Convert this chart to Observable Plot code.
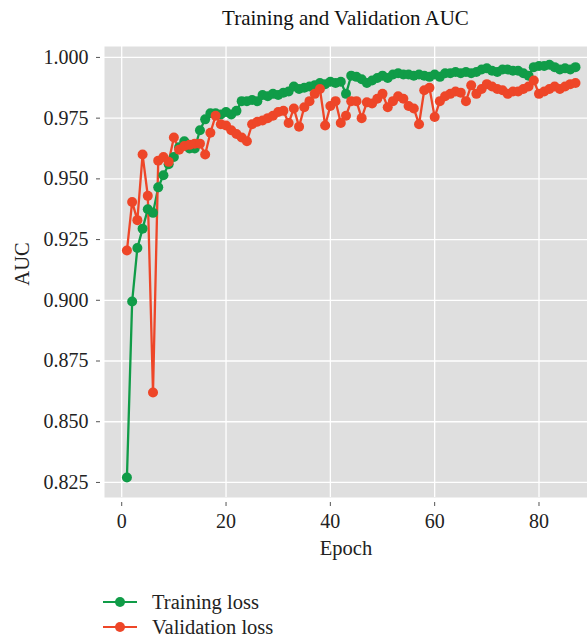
<!DOCTYPE html>
<html><head><meta charset="utf-8">
<script src="https://cdn.jsdelivr.net/npm/d3@7"></script>
<script src="https://cdn.jsdelivr.net/npm/@observablehq/plot@0.6"></script>
<style>
body{margin:0;background:#fff;font-family:"Liberation Serif","DejaVu Serif",serif;color:#222;}
#wrap{position:relative;width:587px;height:642px;overflow:hidden;}
#title{position:absolute;left:104px;width:483px;top:6px;text-align:center;font-size:21px;line-height:24px;color:#111;}
#chart{position:absolute;left:0;top:36px;}
#chart svg, #chart svg text{font-family:"Liberation Serif","DejaVu Serif",serif !important;}
.leg{position:absolute;left:100px;height:24px;display:flex;align-items:center;font-size:20.5px;color:#222;}
.leg svg{margin-right:10px;}
</style></head>
<body><div id="wrap"><div id="title">Training and Validation AUC</div><div id="chart"></div>
<div class="leg" style="top:590px"><svg width="42" height="14"><line x1="3" y1="7" x2="37" y2="7" stroke="#109c48" stroke-width="2"/><circle cx="20" cy="7" r="5" fill="#109c48"/></svg>Training loss</div>
<div class="leg" style="top:615px"><svg width="42" height="14"><line x1="3" y1="7" x2="37" y2="7" stroke="#ee4628" stroke-width="2"/><circle cx="20" cy="7" r="5" fill="#ee4628"/></svg>Validation loss</div>
</div>
<script>
const seriesNames = ["Training loss", "Validation loss"];
const training = [0.827,0.8995,0.9215,0.9295,0.9375,0.9360,0.9465,0.9515,0.9560,0.9590,
0.9630,0.9655,0.9625,0.9625,0.9700,0.9745,0.9770,0.9770,0.9765,0.9775,
0.9765,0.9780,0.9820,0.9820,0.9825,0.9820,0.9845,0.9840,0.9850,0.9845,
0.9855,0.9860,0.9880,0.9870,0.9875,0.9880,0.9885,0.9895,0.9890,0.9900,
0.9895,0.9900,0.9850,0.9925,0.9920,0.9910,0.9895,0.9905,0.9915,0.9925,
0.9915,0.9930,0.9935,0.9930,0.9930,0.9925,0.9930,0.9925,0.9920,0.9930,
0.9920,0.9935,0.9935,0.9940,0.9935,0.9940,0.9935,0.9940,0.9950,0.9955,
0.9945,0.9940,0.9950,0.9950,0.9945,0.9945,0.9935,0.9925,0.9960,0.9965,
0.9965,0.9970,0.9960,0.9950,0.9955,0.9950,0.9960];
const validation = [0.9205,0.9405,0.9330,0.9600,0.9430,0.8620,0.9575,0.9590,0.9570,0.9670,
0.9620,0.9635,0.9640,0.9645,0.9645,0.9600,0.9690,0.9760,0.9725,0.9720,
0.9700,0.9685,0.9670,0.9655,0.9725,0.9735,0.9740,0.9750,0.9760,0.9775,
0.9780,0.9730,0.9790,0.9715,0.9795,0.9820,0.9850,0.9870,0.9720,0.9800,
0.9820,0.9730,0.9760,0.9820,0.9820,0.9750,0.9815,0.9810,0.9830,0.9850,
0.9795,0.9820,0.9840,0.9830,0.9800,0.9790,0.9725,0.9865,0.9875,0.9755,
0.9820,0.9840,0.9850,0.9860,0.9855,0.9820,0.9885,0.9850,0.9870,0.9890,
0.9880,0.9870,0.9865,0.9850,0.9860,0.9860,0.9870,0.9880,0.9905,0.9850,
0.9860,0.9870,0.9880,0.9870,0.9880,0.9890,0.9895];
const xTicks = [0,20,40,60,80];
const yTicks = [0.825,0.850,0.875,0.900,0.925,0.950,0.975,1.000];
const colors = ["#109c48", "#ee4628"];

const data = [];
training.forEach((v,i)=>data.push({epoch:i+1, auc:v, series:seriesNames[0]}));
validation.forEach((v,i)=>data.push({epoch:i+1, auc:v, series:seriesNames[1]}));

const chart = Plot.plot({
  width: 587, height: 531,
  marginTop: 10, marginLeft: 104, marginRight: 0, marginBottom: 70,
  style: {fontSize: "20px", color: "#222", background: "transparent"},
  x: {domain: [-3.3, 89.3], ticks: xTicks},
  y: {domain: [0.8188, 1.0045], ticks: yTicks},
  color: {domain: seriesNames, range: colors},
  marks: [
    Plot.frame({fill: "#dfdfdf", stroke: null}),
    Plot.gridX(xTicks, {stroke: "#fff", strokeOpacity: 1, strokeWidth: 1.3}),
    Plot.gridY(yTicks, {stroke: "#fff", strokeOpacity: 1, strokeWidth: 1.3}),
    Plot.axisX(xTicks, {tickSize: 4, dy: 5, tickPadding: 7, stroke: "#555", label: null, fontSize: 20, tickFormat: d=>String(d)}),
    Plot.axisY(yTicks, {tickSize: 4, dx: -4, tickPadding: 8, stroke: "#555", label: null, fontSize: 20, tickFormat: d3.format(".3f")}),
    Plot.text(["Epoch"], {frameAnchor: "bottom", dy: 57, fontSize: 20.5, fill: "#222"}),
    Plot.text(["AUC"], {frameAnchor: "left", textAnchor: "middle", dx: -82, dy: -8, rotate: -90, fontSize: 20.5, fill: "#222"}),
    Plot.line(data, {x: "epoch", y: "auc", stroke: "series", z: "series", strokeWidth: 2.3}),
    Plot.dot(data, {x: "epoch", y: "auc", fill: "series", r: 5, stroke: null})
  ]
});
document.getElementById("chart").appendChild(chart);
</script>
</body></html>
